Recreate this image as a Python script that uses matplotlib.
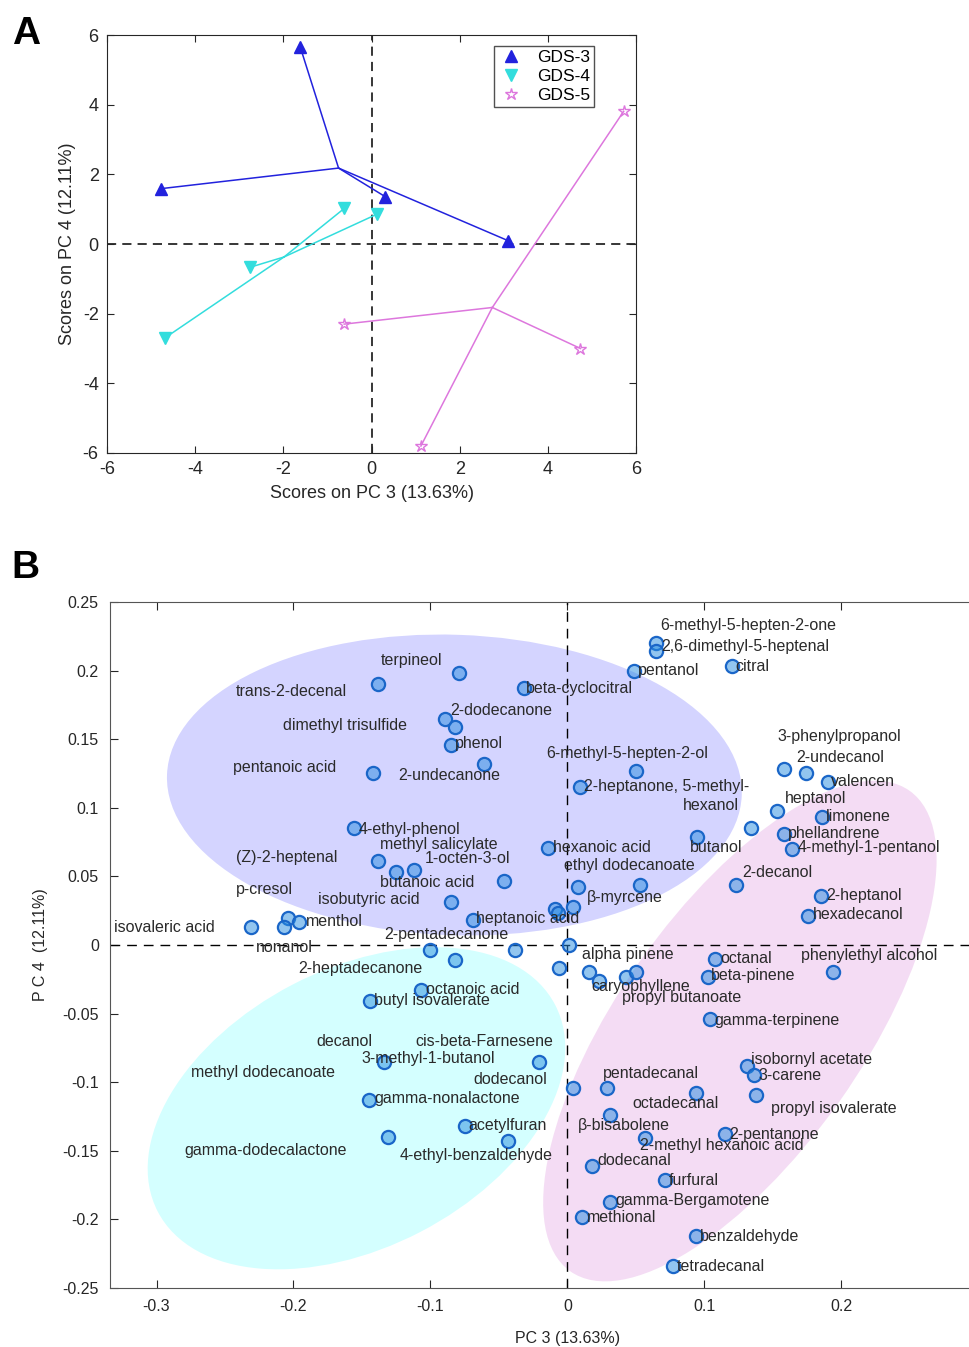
import numpy as np
import matplotlib
matplotlib.use("Agg")
import matplotlib.pyplot as plt
from matplotlib.patches import Ellipse
from matplotlib.lines import Line2D

plt.rcParams['font.family'] = ['Liberation Sans', 'DejaVu Sans']
plt.rcParams['axes.unicode_minus'] = False

##### Panel A: sample scores #####
gds3_pc3 = [-1.62, -4.77, 0.31, 3.09]
gds3_pc4 = [5.67, 1.59, 1.36, 0.10]
gds4_pc3 = [-0.62, 0.13, -2.76, -4.69]
gds4_pc4 = [1.02, 0.86, -0.67, -2.70]
gds5_pc3 = [5.72, -0.62, 4.74, 1.12]
gds5_pc4 = [3.81, -2.30, -3.00, -5.80]

##### Panel B: loadings #####
load_pc3 = [-0.0788, -0.138, -0.032, -0.089, -0.082, -0.085, -0.061, -0.142, 0.050, 0.009,
            -0.156, -0.014, -0.138, -0.125, -0.112, -0.046, -0.085, 0.053, 0.008, -0.069,
            -0.009, -0.007, 0.004, 0.095, 0.065, 0.065, 0.049, 0.120, 0.158, 0.174,
            0.190, 0.153, 0.186, 0.134, 0.158, 0.164, 0.123, 0.185, 0.176, -0.231,
            -0.204, -0.207, -0.196, -0.100, -0.038, -0.082, 0.001, -0.006, -0.107, -0.144,
            -0.021, -0.134, -0.145, -0.075, -0.131, -0.043, 0.016, 0.023, 0.043, 0.050,
            0.108, 0.103, 0.194, 0.104, 0.131, 0.136, 0.138, 0.004, 0.029, 0.094,
            0.031, 0.057, 0.115, 0.018, 0.071, 0.031, 0.011, 0.094, 0.077]
load_pc4 = [0.198, 0.190, 0.187, 0.165, 0.159, 0.146, 0.132, 0.125, 0.127, 0.115,
            0.085, 0.071, 0.061, 0.053, 0.055, 0.047, 0.031, 0.044, 0.042, 0.018,
            0.026, 0.023, 0.028, 0.079, 0.220, 0.214, 0.200, 0.203, 0.128, 0.125,
            0.119, 0.098, 0.093, 0.085, 0.081, 0.070, 0.044, 0.036, 0.021, 0.013,
            0.020, 0.013, 0.017, -0.004, -0.004, -0.011, 0.000, -0.017, -0.033, -0.041,
            -0.085, -0.085, -0.113, -0.132, -0.140, -0.143, -0.020, -0.026, -0.023, -0.020,
            -0.010, -0.023, -0.020, -0.054, -0.088, -0.095, -0.109, -0.104, -0.104, -0.108,
            -0.124, -0.141, -0.138, -0.161, -0.171, -0.187, -0.198, -0.212, -0.234]

compound_names = [
    "6-methyl-5-hepten-2-one", "2,6-dimethyl-5-heptenal", "pentanol", "citral",
    "terpineol", "trans-2-decenal", "beta-cyclocitral", "2-dodecanone",
    "dimethyl trisulfide", "phenol", "6-methyl-5-hepten-2-ol", "pentanoic acid",
    "2-undecanone", "2-heptanone, 5-methyl-", "hexanol", "3-phenylpropanol",
    "2-undecanol", "valencen", "heptanol", "limonene", "phellandrene",
    "4-methyl-1-pentanol", "butanol", "4-ethyl-phenol", "methyl salicylate",
    "hexanoic acid", "(Z)-2-heptenal", "1-octen-3-ol", "ethyl dodecanoate",
    "2-decanol", "butanoic acid", "p-cresol", "isobutyric acid", "β-myrcene",
    "2-heptanol", "menthol", "isovaleric acid", "heptanoic acid", "hexadecanol",
    "2-pentadecanone", "nonanol", "alpha pinene", "octanal", "phenylethyl alcohol",
    "2-heptadecanone", "beta-pinene", "caryophyllene", "octanoic acid",
    "butyl isovalerate", "propyl butanoate", "gamma-terpinene", "decanol",
    "cis-beta-Farnesene", "3-methyl-1-butanol", "isobornyl acetate", "3-carene",
    "methyl dodecanoate", "pentadecanal", "dodecanol", "gamma-nonalactone",
    "octadecanal", "propyl isovalerate", "acetylfuran", "β-bisabolene",
    "2-pentanone", "2-methyl hexanoic acid", "gamma-dodecalactone",
    "4-ethyl-benzaldehyde", "dodecanal", "furfural", "gamma-Bergamotene",
    "methional", "benzaldehyde", "tetradecanal"]

# where each name is written (left edge, middle), hand placed like the original
label_xy = [
    (0.0679, 0.2332), (0.0686, 0.2179), (0.0518, 0.2004), (0.1226, 0.2033),
    (-0.1365, 0.2070), (-0.2423, 0.1844), (-0.0299, 0.1873), (-0.0854, 0.1706),
    (-0.2073, 0.1603), (-0.0818, 0.1472), (-0.0153, 0.1399), (-0.2445, 0.1290),
    (-0.1234, 0.1232), (0.0124, 0.1152), (0.0847, 0.1013), (0.1533, 0.1516),
    (0.1672, 0.1370), (0.1927, 0.1188), (0.1591, 0.1071), (0.1891, 0.0940),
    (0.1613, 0.0816), (0.1679, 0.0707), (0.0898, 0.0707), (-0.1526, 0.0845),
    (-0.1365, 0.0736), (-0.0102, 0.0714), (-0.2423, 0.0641), (-0.1044, 0.0627),
    (-0.0022, 0.0576), (0.1277, 0.0525), (-0.1365, 0.0459), (-0.2423, 0.0401),
    (-0.1818, 0.0328), (0.0139, 0.0343), (0.1891, 0.0364), (-0.1912, 0.0168),
    (-0.3314, 0.0131), (-0.0664, 0.0190), (0.1796, 0.0219), (-0.1336, 0.0073),
    (-0.2277, -0.0015), (0.0109, -0.0066), (0.1117, -0.0095), (0.1708, -0.0073),
    (-0.1964, -0.0168), (0.1051, -0.0226), (0.0175, -0.0299), (-0.1029, -0.0328),
    (-0.1409, -0.0408), (0.0401, -0.0386), (0.1073, -0.0547), (-0.1832, -0.0707),
    (-0.1109, -0.0700), (-0.1504, -0.0824), (0.1343, -0.0838), (0.1394, -0.0948),
    (-0.2745, -0.0926), (0.0263, -0.0933), (-0.0686, -0.0984), (-0.1409, -0.1122),
    (0.0474, -0.1152), (0.1489, -0.1195), (-0.0723, -0.1312), (0.0080, -0.1319),
    (0.1182, -0.1378), (0.0533, -0.1465), (-0.2796, -0.1501), (-0.1226, -0.1531),
    (0.0219, -0.1574), (0.0737, -0.1713), (0.0350, -0.1859), (0.0146, -0.1983),
    (0.0971, -0.2121), (0.0796, -0.2340)]

txt_col = '#262626'

fig = plt.figure(figsize=(9.69, 13.47), dpi=100)

#### Panel A ####
axA = fig.add_axes([0.1104, 0.6637, 0.546, 0.3103])
groups = [(gds3_pc3, gds3_pc4, '#2222dd', '^', 'GDS-3', True),
          (gds4_pc3, gds4_pc4, '#33dddd', 'v', 'GDS-4', True),
          (gds5_pc3, gds5_pc4, '#dd77dd', '*', 'GDS-5', False)]
handles = []
for xs, ys, col, mk, name, filled in groups:
    cx, cy = np.mean(xs), np.mean(ys)
    for x, y in zip(xs, ys):
        axA.plot([cx, x], [cy, y], color=col, lw=1.1, zorder=2)
    fc = col if filled else 'none'
    ms = 8 if filled else 9
    axA.plot(xs, ys, linestyle='none', marker=mk, ms=ms, mfc=fc, mec=col, mew=1.0, zorder=3)
    handles.append(Line2D([], [], linestyle='none', marker=mk, ms=ms, mfc=fc, mec=col,
                          mew=1.0, label=name))

axA.axhline(0, color='k', ls=(0, (6, 4)), lw=1.1, zorder=1)
axA.axvline(0, color='k', ls=(0, (6, 4)), lw=1.1, zorder=1)
axA.set_xlim(-6, 6)
axA.set_ylim(-6, 6)
axA.set_xticks(range(-6, 7, 2))
axA.set_yticks(range(-6, 7, 2))
axA.tick_params(direction='in', top=True, right=True, labelsize=13, colors=txt_col,
                length=5, labelcolor=txt_col, pad=6)
for s in axA.spines.values():
    s.set_color('#262626')
axA.set_xlabel("Scores on PC 3 (13.63%)", fontsize=13, color=txt_col, labelpad=5)
axA.set_ylabel("Scores on PC 4 (12.11%)", fontsize=13, color=txt_col, labelpad=5)
leg = axA.legend(handles=handles, loc='upper right', bbox_to_anchor=(0.928, 0.983),
                 fontsize=12.5, frameon=True, fancybox=False, edgecolor='#262626',
                 handletextpad=0.8, borderpad=0.25, labelspacing=0.22, handlelength=1.4,
                 borderaxespad=0.2)
leg.get_frame().set_linewidth(1.0)

fig.text(0.012, 0.975, "A", fontsize=28, fontweight='bold', va='center', ha='left')
fig.text(0.012, 0.578, "B", fontsize=28, fontweight='bold', va='center', ha='left')

#### Panel B ####
axB = fig.add_axes([0.1135, 0.0438, 0.944, 0.5093])
axB.set_xlim(-0.334, 0.334)
axB.set_ylim(-0.25, 0.25)

ells = [((-0.0825, 0.1166), 0.420, 0.219, -2, (0.0, 0.0, 1.0)),
        ((-0.154, -0.119), 0.327, 0.203, 27.4, (0.0, 1.0, 1.0)),
        ((0.126, -0.0627), 0.429, 0.178, 54.7, (0.75, 0.2, 0.75))]
for c, w, h, ang, col in ells:
    axB.add_patch(Ellipse(c, w, h, angle=ang, facecolor=col, alpha=0.17,
                          edgecolor='none', zorder=1))

axB.axhline(0, color='k', ls=(0, (7, 5)), lw=1.0, zorder=2)
axB.axvline(0, color='k', ls=(0, (7, 5)), lw=1.0, zorder=2)

axB.plot(load_pc3, load_pc4, linestyle='none', marker='o', ms=9.5,
         mfc=(0.15, 0.55, 0.88, 0.5), mec='#1a66c8', mew=1.6, zorder=3)

for name, (lx, ly) in zip(compound_names, label_xy):
    axB.text(lx, ly, name, fontsize=11.5, color='#2a2a2a', ha='left', va='center', zorder=4)

axB.set_xticks([-0.3, -0.2, -0.1, 0, 0.1, 0.2])
axB.set_xticklabels(['-0.3', '-0.2', '-0.1', '0', '0.1', '0.2'])
axB.set_yticks(np.round(np.arange(-0.25, 0.26, 0.05), 2))
axB.set_yticklabels(['-0.25', '-0.2', '-0.15', '-0.1', '-0.05', '0',
                     '0.05', '0.1', '0.15', '0.2', '0.25'])
axB.tick_params(direction='in', top=True, right=True, labelsize=11.5, length=6,
                colors='#262626', labelcolor=txt_col, pad=8)
for s in axB.spines.values():
    s.set_color('#555555')
axB.set_xlabel("PC 3 (13.63%)", fontsize=11.5, color=txt_col, labelpad=12)
axB.set_ylabel("P C 4  (12.11%)", fontsize=11.5, color=txt_col, labelpad=10)

fig.savefig("out.png", dpi=100)
